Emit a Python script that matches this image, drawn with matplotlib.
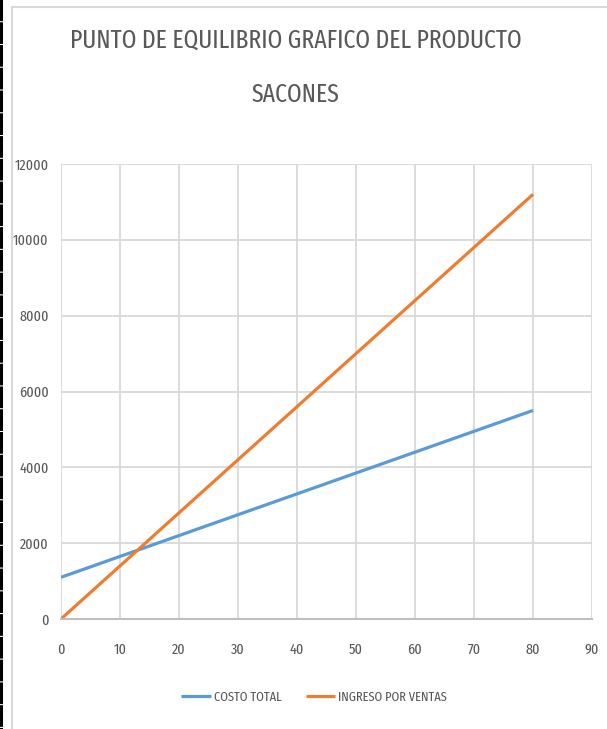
import matplotlib
matplotlib.use("Agg")
import matplotlib.pyplot as plt
from matplotlib.patches import Rectangle
from matplotlib.lines import Line2D

title_line1 = "PUNTO DE EQUILIBRIO GRAFICO DEL PRODUCTO"
title_line2 = "SACONES"
units = [0, 10, 20, 30, 40, 50, 60, 70, 80]
costo_total = [1100, 1650, 2200, 2750, 3300, 3850, 4400, 4950, 5500]
ingreso_ventas = [0, 1400, 2800, 4200, 5600, 7000, 8400, 9800, 11200]
series_names = ["COSTO TOTAL", "INGRESO POR VENTAS"]
x_ticks = [0, 10, 20, 30, 40, 50, 60, 70, 80, 90]
y_ticks = [0, 2000, 4000, 6000, 8000, 10000, 12000]

FONT = ["Fira Sans Extra Condensed", "DejaVu Sans"]
plt.rcParams["font.family"] = FONT
plt.rcParams["font.weight"] = "normal"
TXT = "#595959"

fig = plt.figure(figsize=(6.07, 7.29), dpi=100)
W, H = 607, 729

# chart-area border
fig.patches.append(Rectangle((12 / W, -0.05), 1.2, 1 - 7 / H + 0.05,
                             transform=fig.transFigure, fill=False,
                             edgecolor="#d9d9d9", linewidth=1.5))
# dashed black strip on left edge
fig.lines.append(Line2D([1.2 / W, 1.2 / W], [1 + 15.7 / H, 0], transform=fig.transFigure,
                        color="black", linewidth=2.2, dashes=(7.1, 0.35)))

ax = fig.add_axes([61 / W, 1 - 619 / H, (592 - 61) / W, (619 - 164) / H])
ax.plot(units, costo_total, color="#5B9BD5", linewidth=2.3, label=series_names[0],
        solid_capstyle="butt")
ax.plot(units, ingreso_ventas, color="#ED7D31", linewidth=2.3, label=series_names[1],
        solid_capstyle="butt")

ax.set_xlim(0, 90)
ax.set_ylim(0, 12000)
ax.set_xticks(x_ticks)
ax.set_yticks(y_ticks)
ax.grid(True, color="#d9d9d9", linewidth=1.3)
ax.set_axisbelow(True)
for s in ["top", "right", "left"]:
    ax.spines[s].set_visible(False)
ax.spines["bottom"].set_color("#bfbfbf")
ax.spines["bottom"].set_linewidth(1.5)
ax.tick_params(axis="both", length=0, labelcolor=TXT, labelsize=11)
ax.tick_params(axis="x", pad=17)
ax.tick_params(axis="y", pad=9)

fig.text(296 / W, 1 - 40 / H, title_line1,
         ha="center", va="center", fontsize=18.5, color=TXT)
fig.text(296 / W, 1 - 95 / H, title_line2,
         ha="center", va="center", fontsize=18.5, color=TXT)

leg = fig.legend(loc="center", bbox_to_anchor=(314 / W, 1 - 697 / H), ncol=2,
                 frameon=False, fontsize=9.7, handlelength=2.2, handletextpad=0.2,
                 columnspacing=1.8, labelcolor=TXT)

fig.savefig("out.png", dpi=100, facecolor="white")
